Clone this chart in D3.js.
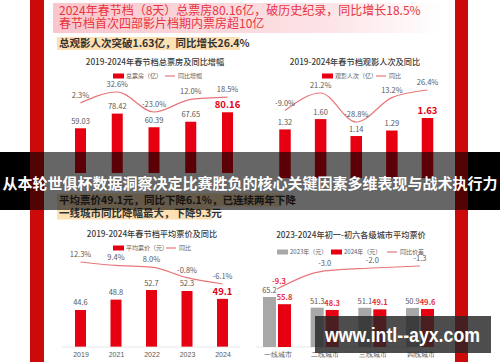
<!DOCTYPE html>
<html>
<head>
<meta charset="utf-8">
<script src="https://cdn.jsdelivr.net/npm/d3@7"></script>
<style>
body { margin: 0; background: #fff; }
svg { display: block; font-family: "Noto Sans CJK SC", "Noto Sans", sans-serif; }
</style>
</head>
<body>
<svg width="500" height="362"></svg>
<script>
let years = ['2019', '2021', '2022', '2023', '2024']
let boxOffice = [59.03, 78.42, 60.39, 67.65, 80.16]
let boxYoy = [2.3, 32.6, -23.0, 12.0, 18.5]
let admissions = [1.32, 1.60, 1.14, 1.29, 1.63]
let admYoy = [-9.0, 21.2, -28.8, 13.2, 26.4]
let avgPrice = [44.6, 48.8, 52.7, 52.3, 49.1]
let priceYoy = [12.3, 9.4, 8.0, -0.8, -6.1]
let cityTiers = ['一线城市', '二线城市', '三线城市', '四线城市']
let price2023 = [65.2, 51.3, 51.1, 50.9]
let price2024 = [55.8, 48.3, 49.1, 49.6]
let priceDiff = [-9.3, -3.0, -2.0, -1.3]

let red = '#e60012'
let lineRed = '#e8777a'
let grey = '#a8a8a8'
let txt = '#595959'

let svg = d3.select('svg')

// page frame
let defs = svg.append('defs')
let grad = defs.append('linearGradient').attr('id', 'pink')
grad.append('stop').attr('offset', '0%').attr('stop-color', '#f9c6cc')
grad.append('stop').attr('offset', '70%').attr('stop-color', '#fce3e6')
grad.append('stop').attr('offset', '100%').attr('stop-color', '#ffffff')

svg.append('rect').attr('x', 30).attr('y', 0).attr('width', 14).attr('height', 362).attr('fill', '#cc0a0a')
svg.append('rect').attr('x', 455).attr('y', 0).attr('width', 13).attr('height', 362).attr('fill', '#cc0a0a')

svg.append('rect').attr('x', 53).attr('y', 3).attr('width', 390).attr('height', 30).attr('fill', 'url(#pink)')
svg.append('text').attr('x', 59).attr('y', 14.5).attr('font-size', 12).attr('fill', '#e8343f')
   .text('2024年春节档（8天）总票房80.16亿，破历史纪录，同比增长18.5%')
svg.append('text').attr('x', 59).attr('y', 28).attr('font-size', 12).attr('fill', '#e8343f')
   .text('春节档首次四部影片档期内票房超10亿')

let highlight = (x, y, w, label) => {
    svg.append('rect').attr('x', x - 2).attr('y', y - 10).attr('width', w).attr('height', 13).attr('fill', '#fde0b4')
    svg.append('text').attr('x', x).attr('y', y).attr('font-size', 10.5).attr('font-weight', 'bold')
       .attr('fill', '#333').text(label)
}
highlight(59, 47, 183, '总观影人次突破1.63亿，同比增长26.4%')

let title = (x, y, label) => {
    svg.append('text').attr('x', x).attr('y', y).attr('text-anchor', 'middle').attr('font-size', 8.2)
       .attr('font-weight', 500).attr('fill', '#3a3a3a').text(label)
}

let legendBar = (x, y, color, label) => {
    svg.append('rect').attr('x', x).attr('y', y - 2.5).attr('width', 11).attr('height', 5).attr('fill', color)
    svg.append('text').attr('x', x + 13).attr('y', y + 2.2).attr('font-size', 6).attr('fill', txt).text(label)
}
let legendLine = (x, y, label) => {
    svg.append('line').attr('x1', x).attr('x2', x + 10).attr('y1', y).attr('y2', y)
       .attr('stroke', lineRed).attr('stroke-width', 1.2)
    svg.append('text').attr('x', x + 13).attr('y', y + 2.2).attr('font-size', 6).attr('fill', txt).text(label)
}

// bars + yoy line for one of the year charts
let drawYearChart = (opt) => {
    let xScale = d3.scalePoint().domain(years).range(opt.xRange)
    let yScale = d3.scaleLinear().domain(opt.yDomain).range(opt.yRange)
    let lScale = d3.scaleLinear().domain(opt.lDomain).range(opt.lRange)
    let g = svg.append('g')

    g.selectAll('.bar').data(opt.values).enter().append('rect')
     .attr('x', (d, i) => xScale(years[i]) - opt.barW / 2)
     .attr('y', d => yScale(d))
     .attr('width', opt.barW)
     .attr('height', d => opt.yRange[0] - yScale(d))
     .attr('fill', red)

    g.selectAll('.val').data(opt.values).enter().append('text')
     .attr('x', (d, i) => xScale(years[i]))
     .attr('y', (d, i) => yScale(d) - (i == 4 ? 4 : 4.5))
     .attr('text-anchor', 'middle')
     .attr('font-size', (d, i) => i == 4 ? 9.5 : 7.5)
     .attr('font-weight', (d, i) => i == 4 ? 'bold' : 'normal')
     .attr('fill', (d, i) => i == 4 ? red : txt)
     .text(d => d3.format(opt.fmt)(d))

    let line = d3.line()
                 .x((d, i) => xScale(years[i]))
                 .y(d => lScale(d))
                 .curve(d3.curveMonotoneX)
    g.append('path').datum(opt.yoy).attr('d', line)
     .attr('fill', 'none').attr('stroke', lineRed).attr('stroke-width', 1.2)

    g.selectAll('.yoy').data(opt.yoy).enter().append('text')
     .attr('x', (d, i) => xScale(years[i]))
     .attr('y', d => lScale(d) - 5)
     .attr('text-anchor', 'middle')
     .attr('font-size', 7.5)
     .attr('fill', txt)
     .text(d => d.toFixed(1) + '%')

    if (opt.axis) {
        g.append('line').attr('x1', 62).attr('x2', 240).attr('y1', opt.yRange[0]).attr('y2', opt.yRange[0])
         .attr('stroke', '#e3e3e3').attr('stroke-width', 0.8)
        let xAxis = d3.axisBottom(xScale).tickSize(0).tickPadding(5)
        let ax = g.append('g').attr('transform', 'translate(0,' + opt.yRange[0] + ')').call(xAxis)
        ax.select('.domain').remove()
        ax.selectAll('text').attr('font-size', 7).attr('fill', txt).attr('font-family', 'inherit')
    }
}

// chart 1: box office
title(155, 65, '2019-2024年春节档总票房及同比增幅')
legendBar(113, 76, red, '总票房（亿）')
legendLine(165, 76, '同比增幅')
drawYearChart({
    values: boxOffice, yoy: boxYoy, fmt: '.2f',
    xRange: [80.5, 227.5], yDomain: [0, 80], yRange: [173, 112.4],
    lDomain: [-23, 32.6], lRange: [112, 92], barW: 11
})

// chart 2: admissions
title(355, 65, '2019-2024年春节档观影人次及同比')
legendBar(322, 76, red, '观影人次（亿）')
legendLine(376, 76, '同比')
drawYearChart({
    values: admissions, yoy: admYoy, fmt: '.2f',
    xRange: [285, 427.5], yDomain: [0, 1.63], yRange: [178, 118],
    lDomain: [-28.8, 26.4], lRange: [122, 90], barW: 11.5
})

// chart 3: average price
title(152, 237, '2019-2024年春节档平均票价及同比')
legendBar(113, 248, red, '平均票价（元）')
legendLine(166, 248, '同比')
drawYearChart({
    values: avgPrice, yoy: priceYoy, fmt: '.1f',
    xRange: [80.5, 222.5], yDomain: [29.6, 52.7], yRange: [347, 290],
    lDomain: [-6.1, 12.3], lRange: [284, 262], barW: 11, axis: true
})

// chart 4: city tiers
title(351, 238, '2023-2024年初一-初六各级城市平均票价')
legendBar(277, 252, grey, '2023年（元）')
legendBar(331, 252, red, '2024年（元）')
legendLine(387, 252, '同比价差')

let xCity = d3.scalePoint().domain(cityTiers).range([277, 420])
let yCity = d3.scaleLinear().domain([0, 65.2]).range([347, 297])
let lCity = d3.scaleLinear().domain([-9.3, -1.3]).range([289, 266])
let g4 = svg.append('g')

g4.append('line').attr('x1', 256).attr('x2', 446).attr('y1', 347).attr('y2', 347)
  .attr('stroke', '#e3e3e3').attr('stroke-width', 0.8)

g4.selectAll('.b23').data(price2023).enter().append('rect')
  .attr('x', (d, i) => xCity(cityTiers[i]) - 14)
  .attr('y', d => yCity(d))
  .attr('width', 13)
  .attr('height', d => 347 - yCity(d))
  .attr('fill', grey)
g4.selectAll('.b24').data(price2024).enter().append('rect')
  .attr('x', (d, i) => xCity(cityTiers[i]) + 1)
  .attr('y', d => yCity(d))
  .attr('width', 13)
  .attr('height', d => 347 - yCity(d))
  .attr('fill', red)

g4.selectAll('.v23').data(price2023).enter().append('text')
  .attr('x', (d, i) => xCity(cityTiers[i]) - 7.5)
  .attr('y', d => yCity(d) - 4)
  .attr('text-anchor', 'middle').attr('font-size', 7.5).attr('fill', txt)
  .text(d => d.toFixed(1))
g4.selectAll('.v24').data(price2024).enter().append('text')
  .attr('x', (d, i) => xCity(cityTiers[i]) + 7.5)
  .attr('y', d => yCity(d) - 4)
  .attr('text-anchor', 'middle').attr('font-size', 7.5).attr('font-weight', 'bold').attr('fill', '#e8343f')
  .text(d => d.toFixed(1))

let cityLine = d3.line()
                 .x((d, i) => xCity(cityTiers[i]))
                 .y(d => lCity(d))
                 .curve(d3.curveMonotoneX)
g4.append('path').datum(priceDiff).attr('d', cityLine)
  .attr('fill', 'none').attr('stroke', lineRed).attr('stroke-width', 1.2)
g4.selectAll('.diff').data(priceDiff).enter().append('text')
  .attr('x', (d, i) => xCity(cityTiers[i]) + (i == 0 ? 2 : 0))
  .attr('y', d => lCity(d) - 5)
  .attr('text-anchor', 'middle').attr('font-size', 7.5)
  .attr('font-weight', (d, i) => i == 0 ? 'bold' : 'normal')
  .attr('fill', (d, i) => i == 0 ? '#e8343f' : txt)
  .text(d => d.toFixed(1))

let cityAxis = d3.axisBottom(xCity).tickSize(0).tickPadding(5)
let ax4 = g4.append('g').attr('transform', 'translate(0,347)').call(cityAxis)
ax4.select('.domain').remove()
ax4.selectAll('text').attr('font-size', 7).attr('fill', txt).attr('font-family', 'inherit')

// sub header (partly under band)
highlight(59, 203.5, 225, '平均票价49.1元，同比下降6.1%，已连续两年下降')
highlight(59, 216.5, 155, '一线城市同比降幅最大，下降9.3元')

// dark band with title
svg.append('rect').attr('x', 0).attr('y', 152).attr('width', 30).attr('height', 58).attr('fill', '#000')
svg.append('rect').attr('x', 468).attr('y', 152).attr('width', 32).attr('height', 58).attr('fill', '#000')
svg.append('rect').attr('x', 30).attr('y', 152).attr('width', 438).attr('height', 58).attr('fill', '#000').attr('opacity', 0.6)
svg.append('text').attr('x', 250).attr('y', 189).attr('text-anchor', 'middle')
   .attr('font-size', 15).attr('font-weight', 'bold').attr('fill', '#fff')
   .text('从本轮世俱杯数据洞察决定比赛胜负的核心关键因素多维表现与战术执行力')

// watermark
svg.append('rect').attr('x', 315).attr('y', 316).attr('width', 176).attr('height', 37).attr('fill', '#262626').attr('opacity', 0.82)
svg.append('text').attr('x', 325).attr('y', 342).attr('font-size', 20).attr('font-weight', 'bold').attr('fill', '#fff')
   .attr('font-family', '"Liberation Sans", Arial, sans-serif')
   .attr('textLength', 155).attr('lengthAdjust', 'spacingAndGlyphs')
   .text('www.intl--ayx.com')
</script>
</body>
</html>
